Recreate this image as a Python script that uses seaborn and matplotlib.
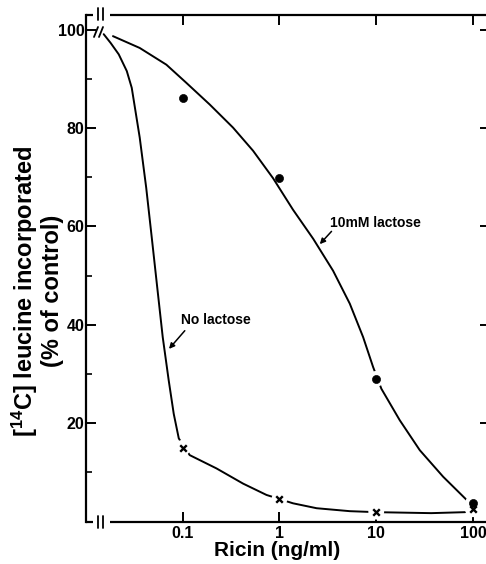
import matplotlib
matplotlib.use('Agg')
import matplotlib.pyplot as plt
import seaborn as sns
import pandas as pd
from matplotlib.ticker import FixedLocator, NullLocator

# measured points (% of control)
ricin = [0.1, 1, 10, 100]
no_lactose = [15.0, 4.6, 2.0, 2.5]
lactose_10mm = [86.2, 69.8, 29.0, 3.7]

# hand drawn curves
no_lac_curve_x = [0.01524, 0.0180, 0.0218, 0.0264, 0.0297, 0.0359, 0.0419, 0.0478, 0.0545,
                  0.0621, 0.0716, 0.0807, 0.0910, 0.118, 0.223, 0.421, 0.734, 1.38, 2.42,
                  5.33, 10, 37, 83]
no_lac_curve_y = [99.1, 97.3, 95.0, 91.6, 88.2, 78.1, 67.9, 57.8, 47.6,
                  37.5, 28.7, 21.9, 16.9, 13.5, 10.8, 7.7, 5.4, 3.7, 2.7,
                  2.1, 1.9, 1.7, 1.9]
lac_curve_x = [0.0190, 0.0359, 0.0677, 0.109, 0.190, 0.331, 0.533, 0.859, 1.38, 2.23,
               3.58, 5.33, 7.32, 9.29, 11.3, 17.5, 28.2, 49.2, 85.9, 100]
lac_curve_y = [98.7, 96.3, 92.9, 89.2, 84.8, 80.1, 75.4, 69.8, 63.4, 57.5,
               51.0, 44.3, 37.5, 31.4, 27.0, 20.6, 14.5, 9.1, 4.4, 3.7]

x_ticks = [0.1, 1, 10, 100]
x_ticklabels = ['0.1', '1', '10', '100']
y_ticks = [20, 40, 60, 80, 100]
y_minor = [10, 30, 50, 70, 90]

sns.set_theme(style='ticks')
plt.rcParams['font.family'] = ['Liberation Sans', 'DejaVu Sans']
plt.rcParams['font.weight'] = 'bold'
plt.rcParams['text.color'] = 'black'
plt.rcParams['axes.labelcolor'] = 'black'
plt.rcParams['xtick.color'] = 'black'
plt.rcParams['ytick.color'] = 'black'
plt.rcParams['mathtext.fontset'] = 'custom'
plt.rcParams['mathtext.bf'] = 'Liberation Sans:bold'
plt.rcParams['mathtext.rm'] = 'Liberation Sans:bold'
plt.rcParams['mathtext.default'] = 'bf'

W, H = 486, 564
fig = plt.figure(figsize=(W / 100, H / 100), dpi=100)
# axes box in pixels: left spine x=86, right edge just outside the crop, top y=15, bottom y=521.5
ax = fig.add_axes([86 / W, (H - 521.5) / H, 404 / W, 506.5 / H])
ax.set_xscale('log')

curves = pd.DataFrame({'x': no_lac_curve_x, 'y': no_lac_curve_y})
sns.lineplot(data=curves, x='x', y='y', sort=False, estimator=None, color='black',
             lw=1.4, ax=ax, zorder=2)
curves = pd.DataFrame({'x': lac_curve_x, 'y': lac_curve_y})
sns.lineplot(data=curves, x='x', y='y', sort=False, estimator=None, color='black',
             lw=1.4, ax=ax, zorder=2)

# white halo so the curves break around the points they pass through, as in the drawing
sns.scatterplot(x=ricin, y=no_lactose, marker='o', s=130, color='white', edgecolor='none',
                ax=ax, zorder=3)
sns.scatterplot(x=ricin[2:], y=lactose_10mm[2:], marker='o', s=130, color='white',
                edgecolor='none', ax=ax, zorder=3)
sns.scatterplot(x=ricin, y=lactose_10mm, marker='o', s=34, color='black', edgecolor='black',
                ax=ax, zorder=4)
sns.scatterplot(x=ricin, y=no_lactose, marker='x', s=22, color='black', linewidth=1.7,
                ax=ax, zorder=4)

ax.set_xlim(0.01, 150)
ax.set_ylim(0, 103)
ax.set_xlabel('')
ax.set_ylabel('')

ax.xaxis.set_major_locator(FixedLocator(x_ticks))
ax.xaxis.set_minor_locator(NullLocator())
ax.set_xticklabels(x_ticklabels)
ax.set_yticks(y_ticks)
ax.yaxis.set_minor_locator(FixedLocator(y_minor))
ax.tick_params(axis='x', which='major', direction='in', length=7, width=1.4, pad=3,
               top=True, labelsize=11.5, colors='black')
ax.tick_params(axis='y', which='major', direction='in', length=7, width=1.4, pad=1,
               right=True, labelsize=11.5, colors='black')
ax.tick_params(axis='y', which='minor', direction='in', length=4, width=1.2, right=False)
for lab in ax.get_xticklabels() + ax.get_yticklabels():
    lab.set_fontweight('bold')

# spines with axis breaks near the origin
for s in ('top', 'bottom', 'right'):
    ax.spines[s].set_visible(False)
ax.spines['left'].set_linewidth(1.6)
ax.spines['left'].set_color('black')
tr = ax.transAxes


def px(x, y):
    return (x - 86) / 404, (521.5 - y) / 506.5


for yy in (521.5, 15):
    for a, b in ((86, 93), (110, 492)):
        p, q = px(a, yy), px(b, yy)
        ax.plot([p[0], q[0]], [p[1], q[1]], color='black', lw=1.6, transform=tr,
                clip_on=False, solid_capstyle='butt')
for xx in (98, 103):
    for yc in (521.5, 14):
        p, q = px(xx, yc - 6), px(xx, yc + 6)
        ax.plot([p[0], q[0]], [p[1], q[1]], color='black', lw=1.3, transform=tr,
                clip_on=False)
for xx in (94, 99):
    p, q = px(xx, 37), px(xx + 4, 27)
    ax.plot([p[0], q[0]], [p[1], q[1]], color='black', lw=1.3, transform=tr, clip_on=False)

# curve labels
ax.text(3.3, 60.8, '10mM lactose', fontsize=10, fontweight='bold', va='center', ha='left')
ax.annotate('', xy=(2.61, 56.4), xytext=(3.45, 59.0),
            arrowprops=dict(arrowstyle='-|>', color='black', lw=1.1, mutation_scale=8,
                            shrinkA=0, shrinkB=0))
ax.text(0.097, 41.0, 'No lactose', fontsize=10, fontweight='bold', va='center', ha='left')
ax.annotate('', xy=(0.0721, 35.1), xytext=(0.105, 38.8),
            arrowprops=dict(arrowstyle='-|>', color='black', lw=1.1, mutation_scale=8,
                            shrinkA=0, shrinkB=0))

fig.text(277 / W, 1 - 550 / H, 'Ricin (ng/ml)', fontsize=15, fontweight='bold',
         ha='center', va='center')
fig.text(25 / W, 1 - 291 / H, '[$^{14}$C] leucine incorporated', fontsize=17,
         fontweight='bold', rotation=90, ha='center', va='center')
fig.text(52 / W, 1 - 291 / H, '(% of control)', fontsize=17, fontweight='bold',
         rotation=90, ha='center', va='center')

fig.savefig('out.png', dpi=100, facecolor='white')
